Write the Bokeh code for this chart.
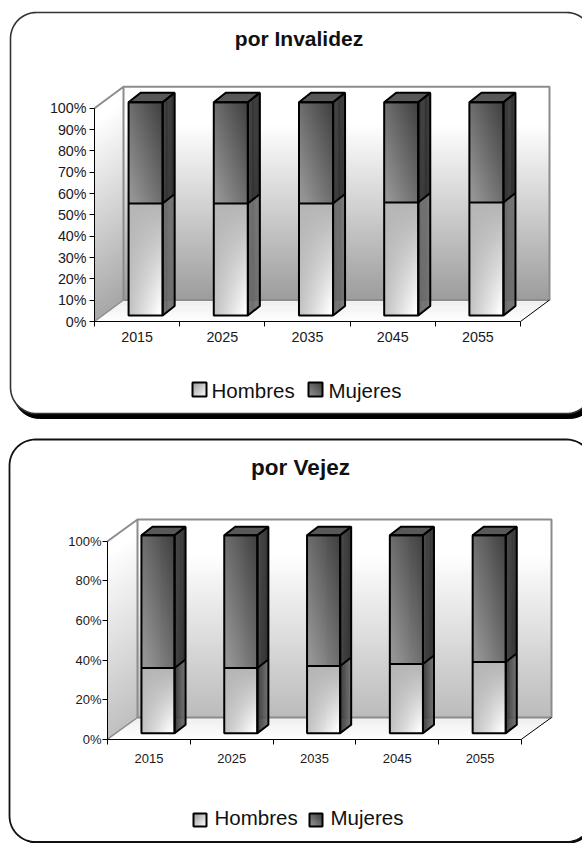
import numpy as np
from bokeh.plotting import figure
from bokeh.layouts import column
from bokeh.models import LinearAxis, FixedTicker, PrintfTickFormatter
from bokeh.core.properties import value
from bokeh.embed import file_html
from bokeh.resources import INLINE

years = [2015, 2025, 2035, 2045, 2055]
series_names = ["Hombres", "Mujeres"]
inv_hombres = [52.5, 52.5, 52.5, 53.0, 53.0]
inv_mujeres = [47.5, 47.5, 47.5, 47.0, 47.0]
vej_hombres = [33.0, 33.0, 34.0, 35.0, 36.0]
vej_mujeres = [67.0, 67.0, 66.0, 65.0, 64.0]
inv_ticks = [0, 10, 20, 30, 40, 50, 60, 70, 80, 90, 100]
vej_ticks = [0, 20, 40, 60, 80, 100]

FONT = "Liberation Sans"


def rgba(gray, mask=None):
    g = np.clip(gray, 0, 255).astype(np.uint8)
    a = np.full(g.shape, 255, np.uint8) if mask is None else (mask * 255).astype(np.uint8)
    return np.dstack([g, g, g, a]).view(np.uint32).reshape(g.shape)


def lerp(a, b, t):
    return a + (b - a) * t


def rounded(x0, y0, x1, y1, r):
    xs, ys = [], []
    for cx, cy, a0 in [(x1 - r, y0 + r, -90), (x1 - r, y1 - r, 0), (x0 + r, y1 - r, 90), (x0 + r, y0 + r, 180)]:
        ang = np.radians(np.linspace(a0, a0 + 90, 16))
        xs += list(cx + r * np.cos(ang))
        ys += list(cy + r * np.sin(ang))
    return xs, ys


def chart(cfg):
    top, bottom = cfg["page"]
    xpx = cfg["x0"]            # pixel of left end of the category axis
    ppx = cfg["px_per_year"]
    y0 = cfg["y0"]             # pixel of 0 %
    ppy = cfg["px_per_pct"]
    fx = lambda px: cfg["x_left"] + (np.asarray(px, float) - xpx) / ppx
    fy = lambda py: (y0 - np.asarray(py, float)) / ppy

    p = figure(width=582, height=bottom - top, output_backend="svg", toolbar_location=None,
               x_axis_type=None, y_axis_type=None,
               x_range=(float(fx(0)), float(fx(582))), y_range=(float(fy(bottom)), float(fy(top))),
               min_border=0, min_border_left=0, min_border_right=0, min_border_top=0, min_border_bottom=0,
               outline_line_color=None, background_fill_color="white", border_fill_color="white")
    p.grid.visible = False

    # rounded frame with shadow
    fr = cfg["frame"]
    sx, sy = rounded(fr[0] + cfg["shadow"][0], fr[1] + cfg["shadow"][1], fr[2] + cfg["shadow"][0], fr[3] + cfg["shadow"][1], 26)
    p.patch(fx(sx), fy(sy), fill_color="black", line_color="black", line_width=1)
    fxs, fys = rounded(fr[0], fr[1], fr[2], fr[3], 26)
    p.patch(fx(fxs + fxs[:1]), fy(fys + fys[:1]), fill_color="white", line_color=cfg["frame_col"], line_width=cfg["frame_w"])

    dpx, dpy = cfg["depth"]
    xl = xpx
    xr = xpx + ppx * 50
    # back wall
    bw_x0, bw_x1 = xl + dpx, xr + dpx
    bw_y0, bw_y1 = y0 - dpy - 100 * ppy, y0 - dpy
    v = np.linspace(0, 1, 80)[:, None] * np.ones((80, 2))
    wall = lerp(cfg["wall_bottom"], 255, np.clip(v / 0.82, 0, 1))
    p.image_rgba(image=[rgba(wall)], x=float(fx(bw_x0)), y=float(fy(bw_y1)),
                 dw=float(fx(bw_x1) - fx(bw_x0)), dh=float(fy(bw_y0) - fy(bw_y1)))
    # left wall, vertical gradient in strips
    n = 70
    strips_x, strips_y, cols = [], [], []
    for i in range(n):
        a, b = i / n, (i + 1) / n
        ya, yb = a * 100, b * 100
        strips_x.append(list(fx([xl, xl + dpx, xl + dpx, xl])))
        strips_y.append([ya, ya + dpy / ppy, yb + dpy / ppy, yb])
        g = int(lerp(cfg["left_bottom"], 255, min(1, a / 0.92)))
        cols.append(f"#{g:02x}{g:02x}{g:02x}")
    p.patches(strips_x, strips_y, fill_color=cols, line_color=cols, line_width=0.4)
    # floor, in strips
    m = 12
    sxs, sys, cols = [], [], []
    for i in range(m):
        a, b = i / m, (i + 1) / m
        sxs.append(list(fx([xl + dpx * a, xr + dpx * a, xr + dpx * b, xl + dpx * b])))
        sys.append([a * dpy / ppy, a * dpy / ppy, b * dpy / ppy, b * dpy / ppy])
        g = int(lerp(255, 238, a))
        cols.append(f"#{g:02x}{g:02x}{g:02x}")
    p.patches(sxs, sys, fill_color=cols, line_color=cols, line_width=0.4)
    # wall edges
    gx = list(fx([xl, xl + dpx, xr + dpx, xr + dpx, xl + dpx, xl + dpx]))
    gy = [100, 100 + dpy / ppy, 100 + dpy / ppy, dpy / ppy, dpy / ppy, 100 + dpy / ppy]
    p.line(gx, gy, line_color="#8c8c8c", line_width=2)
    p.line(list(fx([xr, xr + dpx])), [0, dpy / ppy], line_color="black", line_width=1)
    p.line(list(fx([xl, xl + dpx])), [0, dpy / ppy], line_color="#8c8c8c", line_width=1.5)

    # bars
    shift, bw = cfg["bar_shift"], cfg["bar_w"]
    base = cfg["bar_base"]
    bdx, bdy = cfg["bar_depth"]
    bdx_y = bdx / ppx
    bdy_v = bdy / ppy
    uu, vv = np.meshgrid(np.linspace(0, 1, 34), np.linspace(0, 1, 90))
    for yr, h, w in zip(years, cfg["hombres"], cfg["mujeres"]):
        x0 = yr + shift - bw / 2
        x1 = x0 + bw
        y_h = base + h
        y_t = base + h + w
        # fronts
        g_h = lerp(182, 255, np.clip((1 - vv) * (0.25 + 0.85 * uu), 0, 1) ** 1.2)
        p.image_rgba(image=[rgba(g_h)], x=x0, y=base, dw=bw, dh=h)
        g_m = lerp(64, 148, np.clip(0.55 * (1 - uu) + 0.55 * (1 - vv), 0, 1))
        p.image_rgba(image=[rgba(g_m)], x=x0, y=y_h, dw=bw, dh=w)
        # sides
        k = 14
        for (ya, yb, ca, cb) in [(base, y_h, cfg["side_h"][0], cfg["side_h"][1]), (y_h, y_t, cfg["side_m"][0], cfg["side_m"][1])]:
            xs_, ys_, cs_ = [], [], []
            for i in range(k):
                a, b = i / k, (i + 1) / k
                xs_.append([x1 + bdx_y * a, x1 + bdx_y * b, x1 + bdx_y * b, x1 + bdx_y * a])
                ys_.append([ya + bdy_v * a, ya + bdy_v * b, yb + bdy_v * b, yb + bdy_v * a])
                g = int(lerp(ca, cb, (i + .5) / k))
                cs_.append(f"#{g:02x}{g:02x}{g:02x}")
            p.patches(xs_, ys_, fill_color=cs_, line_color=cs_, line_width=0.3)
        # top
        p.patch([x0, x1, x1 + bdx_y, x0 + bdx_y], [y_t, y_t, y_t + bdy_v, y_t + bdy_v],
                fill_color="#585858", line_color="black", line_width=cfg["bar_lw"])
        # outlines
        p.patch([x0, x1, x1, x0], [base, base, y_t, y_t], fill_alpha=0, line_color="black", line_width=cfg["bar_lw"])
        p.patch([x1, x1 + bdx_y, x1 + bdx_y, x1], [base, base + bdy_v, y_t + bdy_v, y_t], fill_alpha=0,
                line_color="black", line_width=cfg["bar_lw"])
        p.line([x0, x1, x1 + bdx_y], [y_h, y_h, y_h + bdy_v], line_color="black", line_width=cfg["bar_lw"])

    # axes
    yax = LinearAxis(fixed_location=cfg["x_left"], ticker=FixedTicker(ticks=cfg["ticks"]), bounds=(0, 100),
                     formatter=PrintfTickFormatter(format="%d%%"),
                     axis_line_color="black", major_tick_line_color="black", major_tick_out=5, major_tick_in=0,
                     minor_tick_out=0, minor_tick_in=0, major_label_standoff=cfg["y_standoff"],
                     major_label_text_font=FONT, major_label_text_font_size=cfg["tick_font"],
                     major_label_text_color="#1a1a1a")
    p.add_layout(yax, "left")
    edges = [cfg["x_left"] + 10 * i for i in range(6)]
    xax = LinearAxis(fixed_location=0, ticker=FixedTicker(ticks=edges), bounds=(edges[0], edges[-1]),
                     major_label_text_font_size="0px", major_label_text_color=None,
                     axis_line_color="black", major_tick_line_color="black", major_tick_out=5, major_tick_in=0,
                     minor_tick_out=0, minor_tick_in=0)
    p.add_layout(xax, "below")
    xlab = LinearAxis(fixed_location=0, ticker=FixedTicker(ticks=years), formatter=PrintfTickFormatter(format="%d"),
                      axis_line_color=None, major_tick_line_color=None, major_tick_out=0, major_tick_in=0,
                      minor_tick_out=0, minor_tick_in=0, major_label_standoff=cfg["x_standoff"],
                      major_label_text_font=FONT, major_label_text_font_size=cfg["tick_font"],
                      major_label_text_color="#1a1a1a")
    p.add_layout(xlab, "below")

    # title
    p.text([float(fx(cfg["title_x"]))], [float(fy(cfg["title_y"]))], text=[cfg["title"]], text_font=value(FONT),
           text_font_style="bold", text_font_size=cfg["title_font"], text_align="center",
           text_baseline="alphabetic", text_color="#111111")

    # legend
    sw = cfg["swatch"]
    for name, (a, b), tx, grad in zip(series_names, sw["x"], sw["tx"], ["h", "m"]):
        u2, v2 = np.meshgrid(np.linspace(0, 1, 14), np.linspace(0, 1, 14))
        if grad == "h":
            g = lerp(165, 245, np.clip(0.6 * u2 + 0.6 * (1 - v2) - 0.1, 0, 1))
        else:
            g = lerp(70, 140, np.clip(0.6 * (1 - u2) + 0.6 * (1 - v2) - 0.1, 0, 1))
        ya, yb = sw["y"]
        p.image_rgba(image=[rgba(g)], x=float(fx(a)), y=float(fy(yb)), dw=float(fx(b) - fx(a)), dh=float(fy(ya) - fy(yb)))
        p.patch(list(fx([a, b, b, a])), list(fy([ya, ya, yb, yb])), fill_alpha=0, line_color="black", line_width=2)
        p.text([float(fx(tx))], [float(fy(sw["ty"]))], text=[name], text_font=value(FONT),
               text_font_size=sw["font"], text_baseline="alphabetic", text_align="left", text_color="#111111")
    return p


p1 = chart(dict(
    page=(0, 427), x0=94, px_per_year=8.52, x_left=2010, y0=321, px_per_pct=2.133,
    frame=(10, 12, 592, 413), shadow=(3, 5), frame_col="#333333", frame_w=1.6,
    depth=(29, 21.5), wall_bottom=158, left_bottom=165,
    hombres=inv_hombres, mujeres=inv_mujeres, ticks=inv_ticks,
    bar_shift=1.0, bar_w=4.0, bar_base=2.8, bar_depth=(12, 9.5), bar_lw=2,
    side_h=(100, 112), side_m=(48, 40),
    tick_font="14.3px", y_standoff=3, x_standoff=10,
    title="por Invalidez", title_x=298.5, title_y=37.5, title_font="21px",
    swatch=dict(x=[(192, 206), (308, 322)], tx=[211, 328], y=(382, 396), ty=390, font="20.5px"),
))

p2 = chart(dict(
    page=(427, 843), x0=107, px_per_year=8.28, x_left=2010, y0=738.7, px_per_pct=1.98,
    frame=(9, 439, 592, 841.5), shadow=(2, 1), frame_col="#111111", frame_w=1.8,
    depth=(30, 21.7), wall_bottom=188, left_bottom=190,
    hombres=vej_hombres, mujeres=vej_mujeres, ticks=vej_ticks,
    bar_shift=1.1, bar_w=4.0, bar_base=3.0, bar_depth=(11, 8.5), bar_lw=2,
    side_h=(50, 112), side_m=(60, 38),
    tick_font="13px", y_standoff=1, x_standoff=15,
    title="por Vejez", title_x=300, title_y=466.5, title_font="22.5px",
    swatch=dict(x=[(193, 206), (309, 322)], tx=[214, 330], y=(813, 826), ty=817, font="20.5px"),
))

layout = column(p1, p2, spacing=0)
open("out.html", "w").write(file_html(layout, INLINE))
